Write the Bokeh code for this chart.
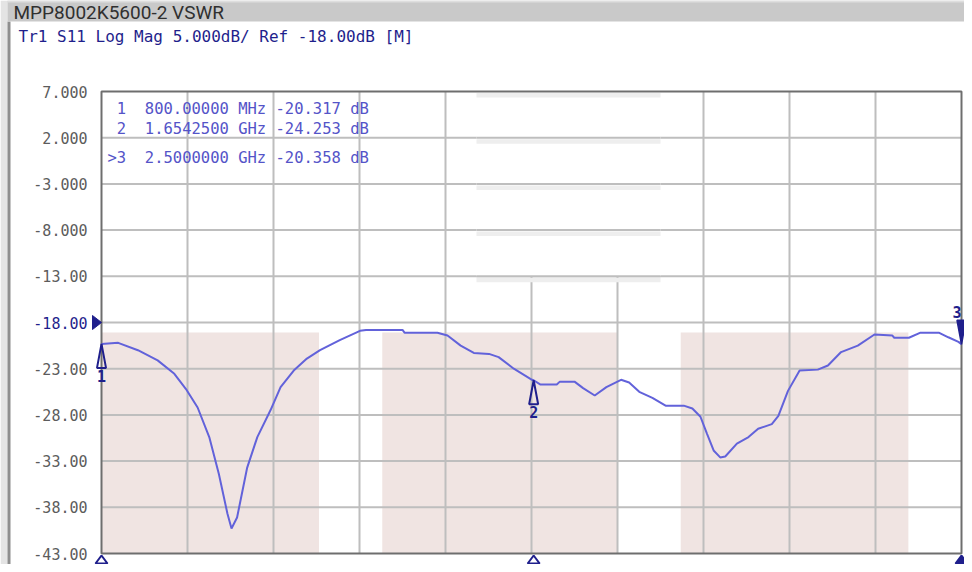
from bokeh.plotting import figure
from bokeh.models import Range1d, Label, ColumnDataSource
from bokeh.core.properties import value
from bokeh.embed import file_html
from bokeh.resources import INLINE

# ---------------- data ----------------
TITLE = "MPP8002K5600-2 VSWR"
HEADER = "Tr1 S11 Log Mag 5.000dB/ Ref -18.00dB [M]"

FREQ_MHZ = [800, 833, 872, 911, 944, 967, 990, 1013, 1032, 1049,
            1057, 1068, 1088, 1108, 1134, 1154, 1180, 1206, 1232, 1271,
            1311, 1323, 1376, 1395, 1399, 1464, 1484, 1510, 1536, 1566,
            1585, 1615, 1651, 1654.25, 1667, 1700, 1706, 1735, 1752, 1775,
            1798, 1827, 1843, 1863, 1889, 1915, 1951, 1968, 1984, 1997,
            2010, 2023, 2033, 2056, 2079, 2098, 2125, 2138, 2157, 2180,
            2216, 2236, 2262, 2295, 2328, 2363, 2367, 2396, 2419, 2455,
            2474, 2494, 2500]
S11_DB = [-20.32, -20.2, -21.0, -22.1, -23.55, -25.2, -27.2, -30.4, -34.4, -38.7,
          -40.3, -39.1, -33.7, -30.4, -27.5, -25.0, -23.2, -21.9, -21.0, -19.9,
          -18.9, -18.8, -18.8, -18.8, -19.1, -19.1, -19.4, -20.5, -21.3, -21.4,
          -21.75, -23.0, -24.2, -24.25, -24.7, -24.7, -24.4, -24.4, -25.1, -25.9,
          -25.0, -24.2, -24.5, -25.5, -26.15, -27.0, -27.0, -27.3, -28.2, -30.05,
          -31.85, -32.6, -32.5, -31.1, -30.4, -29.5, -29.0, -28.1, -25.4, -23.2,
          -23.1, -22.65, -21.2, -20.5, -19.3, -19.4, -19.65, -19.65, -19.1, -19.1,
          -19.6, -20.1, -20.36]

BAND_START_MHZ = [800, 1355, 1945]
BAND_END_MHZ = [1230, 1820, 2395]
BAND_LIMIT_DB = -19.08

Y_TICKS = [7, 2, -3, -8, -13, -18, -23, -28, -33, -38, -43]
Y_TICK_LABELS = ["7.000", "2.000", "-3.000", "-8.000", "-13.00", "-18.00",
                 "-23.00", "-28.00", "-33.00", "-38.00", "-43.00"]
X_GRID_MHZ = [800, 970, 1140, 1310, 1480, 1650, 1820, 1990, 2160, 2330, 2500]
REF_LEVEL_DB = -18

MARKER_ID = ["1", "2", "3"]
MARKER_MHZ = [800, 1654.25, 2500]
MARKER_DB = [-20.317, -24.253, -20.358]
MARKER_FREQ_TEXT = ["800.00000 MHz", "1.6542500 GHz", "2.5000000 GHz"]
ACTIVE_MARKER = "3"

# ---------------- layout (canvas pixels) ----------------
W, H = 964, 564
FL, FR, FT, FB = 101, 961, 91, 553          # graticule edges
X0, X1 = X_GRID_MHZ[0], X_GRID_MHZ[-1]
Y0, Y1 = Y_TICKS[-1], Y_TICKS[0]
MHZ_PX = (X1 - X0) / (FR - FL)
DB_PX = (Y1 - Y0) / (FB - FT)


def dx(px):
    return X0 + (px - FL) * MHZ_PX


def dy(py):
    return Y1 - (py - FT) * DB_PX


NAVY = "#1f1f8c"
TRACE = "#6262da"
GRID = "#bebebe"
MONO = "DejaVu Sans Mono"
NB = "\u00a0"

p = figure(width=W, height=H, x_range=Range1d(dx(0), dx(W)), y_range=Range1d(dy(H), dy(0)),
           x_axis_location=None, y_axis_location=None,
           output_backend="svg", toolbar_location=None,
           min_border=0, min_border_left=0, min_border_right=0,
           min_border_top=0, min_border_bottom=0)
p.background_fill_color = "white"
p.border_fill_color = "white"
p.outline_line_color = None
p.xgrid.visible = False
p.ygrid.visible = False

# ---- window chrome ----
p.quad(left=dx(0), right=dx(7), bottom=dy(H), top=dy(0), fill_color="#e4e4e4", line_color=None)
p.quad(left=dx(7), right=dx(10), bottom=dy(H), top=dy(21), fill_color="#8e8e8e", line_color=None)
p.quad(left=dx(7), right=dx(W), bottom=dy(21), top=dy(0), fill_color="#c9c9c9", line_color=None)
p.quad(left=dx(7), right=dx(W), bottom=dy(2), top=dy(0), fill_color="#dedede", line_color=None)
p.add_layout(Label(x=dx(13), y=dy(11.5), text=TITLE, text_font="Roboto", text_font_size="19px",
                   text_color="#303030", text_baseline="middle"))
p.add_layout(Label(x=dx(18), y=dy(36), text=HEADER.replace(" ", NB), text_font=MONO,
                   text_font_size="16px", text_color=NAVY, text_baseline="middle"))

# ---- limit bands ----
p.quad(left=BAND_START_MHZ, right=BAND_END_MHZ, bottom=Y0, top=BAND_LIMIT_DB,
       fill_color="#f0e4e2", line_color=None)

# ---- graticule ----
p.segment(x0=X0, x1=X1, y0=Y_TICKS[1:-1], y1=Y_TICKS[1:-1], line_color=GRID, line_width=2)
p.segment(x0=X_GRID_MHZ[1:-1], x1=X_GRID_MHZ[1:-1], y0=Y0, y1=Y1, line_color=GRID, line_width=2)

# white overlay artefact at the top centre, with redrawn horizontal lines
ART_L, ART_R = dx(476), dx(660)
art_lines = Y_TICKS[:5]
p.quad(left=ART_L, right=ART_R, bottom=Y_TICKS[4], top=Y_TICKS[0],
       fill_color="white", line_color=None)
p.quad(left=ART_L, right=ART_R, top=[v - 1.5 * DB_PX for v in art_lines],
       bottom=[v - 6 * DB_PX for v in art_lines], fill_color="#eeeeee", line_color=None)
p.segment(x0=ART_L, x1=ART_R, y0=art_lines[1:], y1=art_lines[1:], line_color=GRID, line_width=2)

# frame
p.quad(left=X0, right=X1, bottom=Y0, top=Y1, fill_color=None, line_color="#6e6e6e", line_width=2)

# ---- y tick labels ----
tick_src = ColumnDataSource(dict(
    y=Y_TICKS, text=Y_TICK_LABELS,
    color=[NAVY if t == REF_LEVEL_DB else "#5c5c5c" for t in Y_TICKS]))
p.text(x=dx(87), y="y", text="text", source=tick_src, text_color="color",
       text_font=value(MONO), text_font_size=value("15px"),
       text_align="right", text_baseline="middle")

# reference level arrow
p.patch(x=[X0, dx(FL - 9), dx(FL - 9)],
        y=[REF_LEVEL_DB, REF_LEVEL_DB + 7 * DB_PX, REF_LEVEL_DB - 7 * DB_PX],
        fill_color=NAVY, line_color=NAVY, line_width=1)

# ---- trace ----
p.line(FREQ_MHZ, S11_DB, line_color=TRACE, line_width=2)

# ---- marker table ----
ROW_Y = [108, 128, 157]
for mid, ftxt, db, ry in zip(MARKER_ID, MARKER_FREQ_TEXT, MARKER_DB, ROW_Y):
    flag = ">" if mid == ACTIVE_MARKER else NB
    row = f"{flag}{mid}{NB}{NB}{ftxt.replace(' ', NB)}{NB}{db:.3f}{NB}dB"
    p.add_layout(Label(x=dx(107), y=dy(ry), text=row, text_font=MONO,
                       text_font_size="15.5px", text_color="#5454c8", text_baseline="middle"))

# ---- markers on trace ----
HW = 4.5 * MHZ_PX
HT = 24 * DB_PX
BW = 6 * MHZ_PX
stim_top, stim_bot = dy(FB + 2), dy(FB + 10)
for mid, f, db in zip(MARKER_ID, MARKER_MHZ, MARKER_DB):
    active = mid == ACTIVE_MARKER
    if active:
        p.patch(x=[f, f - HW, f + HW], y=[db, db + HT, db + HT],
                fill_color=NAVY, line_color=NAVY, line_width=1.5)
        # number kept inside the canvas at the right edge
        p.text(x=[min(f, dx(W - 3))], y=[db + HT + 2 * DB_PX], text=[mid], text_font=value(MONO),
               text_font_size=value("15px"), text_font_style="bold", text_color=NAVY,
               text_align="right", text_baseline="bottom")
    else:
        p.patch(x=[f, f - HW, f + HW], y=[db, db - HT, db - HT],
                fill_color=None, line_color=NAVY, line_width=2)
        p.text(x=[f], y=[db - HT - 2 * DB_PX], text=[mid], text_font=value(MONO),
               text_font_size=value("15px"), text_font_style="bold", text_color=NAVY,
               text_align="center", text_baseline="top")
    # stimulus marker below the graticule
    p.patch(x=[f, f - BW, f + BW], y=[stim_top, stim_bot, stim_bot],
            fill_color=NAVY if active else None, line_color=NAVY, line_width=2)

open("out.html", "w").write(file_html(p, INLINE))
